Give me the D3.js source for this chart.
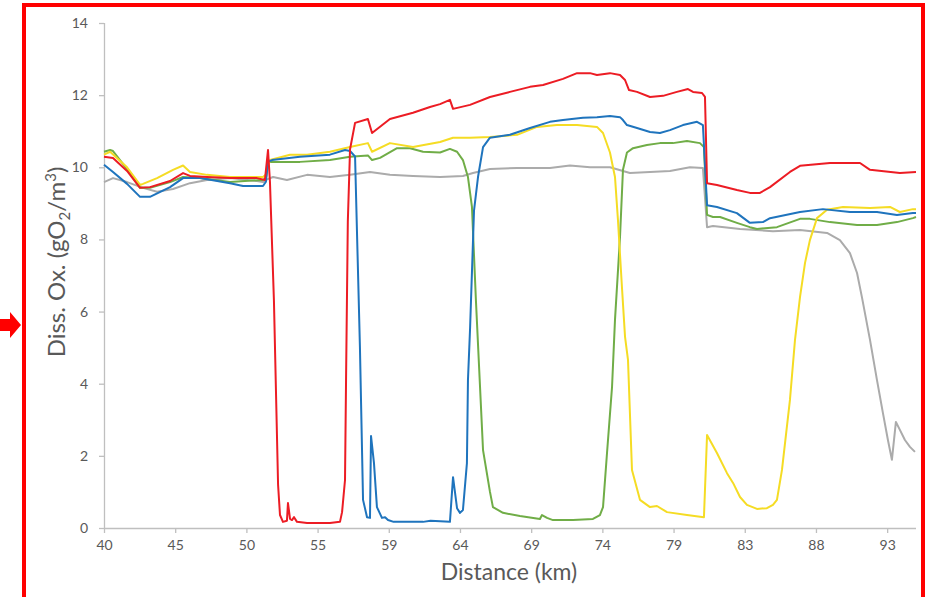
<!DOCTYPE html>
<html>
<head>
<meta charset="utf-8">
<script src="https://cdn.jsdelivr.net/npm/d3@7"></script>
<style>
    html, body { margin: 0; padding: 0; background: #fff; }
    svg { display: block; font-family: "Lato", "Liberation Sans", sans-serif; }
</style>
</head>
<body>
<div id="graph"></div>
<script>
// Category labels shown under the x axis (one every labelStep km)
const xTickLabels = ["40", "45", "50", "55", "59", "64", "69", "74", "79", "83", "88", "93"];
const labelStep = 4.818;
const xMax = 94.95;
const yTicks = [0, 2, 4, 6, 8, 10, 12, 14];

// Dissolved oxygen profiles, [distance km, gO2/m3]
const red = [[40.00,10.29],[40.61,10.26],[41.56,9.9],[42.44,9.43],[43.11,9.45],[44.47,9.62],[45.35,9.84],[45.82,9.76],[46.97,9.73],[48.53,9.7],[50.35,9.7],[50.89,9.65],[51.10,10.48],[51.23,9.6],[51.50,6.3],[51.78,1.2],[51.91,0.36],[52.11,0.17],[52.38,0.2],[52.45,0.69],[52.59,0.25],[52.72,0.22],[52.86,0.3],[53.06,0.17],[53.74,0.14],[55.29,0.14],[55.97,0.17],[56.11,0.44],[56.31,1.33],[56.38,4.1],[56.5,8.5],[56.65,10.5],[56.99,11.23],[57.86,11.34],[58.14,10.95],[59.35,11.34],[60.91,11.51],[62.06,11.67],[62.74,11.75],[63.41,11.87],[63.62,11.62],[64.77,11.73],[66.12,11.95],[67.47,12.09],[68.83,12.23],[69.71,12.28],[71.06,12.45],[72.01,12.61],[72.89,12.61],[73.36,12.56],[74.24,12.61],[74.92,12.56],[75.26,12.42],[75.53,12.14],[76.07,12.09],[76.95,11.95],[77.83,11.98],[78.77,12.09],[79.52,12.17],[79.86,12.09],[80.47,12.06],[80.67,11.95],[80.81,9.56],[81.48,9.51],[82.83,9.37],[83.71,9.29],[84.39,9.29],[85.07,9.45],[86.42,9.87],[87.10,10.04],[89.13,10.12],[91.16,10.12],[91.84,9.93],[93.86,9.84],[94.95,9.87]];

const blue = [[40.00,10.07],[40.61,9.87],[41.56,9.54],[42.44,9.18],[43.11,9.18],[44.47,9.45],[45.35,9.7],[46.5,9.7],[48.53,9.56],[49.41,9.48],[50.76,9.48],[50.96,9.6],[51.10,10.15],[51.37,10.2],[53.26,10.29],[55.29,10.35],[56.31,10.48],[56.65,10.45],[56.99,10.3],[57.32,5.0],[57.53,0.78],[57.80,0.30],[58.00,0.28],[58.07,2.55],[58.27,1.8],[58.47,0.58],[58.81,0.28],[59.02,0.30],[59.22,0.22],[59.6,0.17],[61.59,0.17],[62.1,0.2],[63.41,0.17],[63.62,1.41],[63.89,0.55],[64.09,0.42],[64.29,0.5],[64.56,1.8],[64.63,4.1],[64.77,5.5],[65.04,8.8],[65.31,9.73],[65.65,10.56],[66.12,10.82],[67.47,10.90],[68.83,11.09],[70.18,11.26],[71.06,11.31],[72.41,11.37],[73.36,11.39],[74.24,11.42],[74.92,11.39],[75.12,11.31],[75.39,11.17],[76.07,11.09],[76.95,10.98],[77.62,10.95],[78.30,11.03],[79.18,11.17],[80.13,11.26],[80.53,11.17],[80.81,8.95],[81.48,8.9],[82.83,8.73],[83.71,8.46],[84.59,8.48],[85.07,8.59],[87.10,8.76],[88.65,8.84],[90.48,8.76],[92.31,8.76],[93.66,8.68],[94.74,8.73],[94.95,8.73]];

const green = [[40.00,10.43],[40.41,10.48],[40.61,10.45],[41.56,9.95],[42.44,9.43],[43.11,9.43],[44.47,9.59],[45.35,9.73],[46.50,9.70],[48.53,9.59],[50.76,9.65],[50.96,9.7],[51.10,10.15],[53.26,10.15],[55.29,10.2],[56.65,10.29],[57.86,10.33],[58.14,10.2],[58.68,10.26],[59.83,10.53],[60.71,10.53],[61.59,10.43],[62.74,10.41],[63.41,10.51],[63.89,10.43],[64.29,10.2],[64.63,9.73],[64.90,8.9],[65.17,6.3],[65.65,2.16],[66.12,1.0],[66.32,0.58],[67.00,0.42],[68.15,0.33],[69.50,0.25],[69.64,0.36],[69.98,0.28],[70.38,0.22],[71.74,0.22],[73.09,0.25],[73.56,0.36],[73.77,0.58],[74.04,2.08],[74.38,3.91],[74.58,5.77],[74.92,8.07],[75.12,9.93],[75.39,10.41],[75.80,10.53],[76.74,10.62],[77.62,10.67],[78.50,10.67],[79.45,10.73],[80.33,10.67],[80.60,10.56],[80.81,8.68],[81.21,8.62],[81.69,8.62],[82.83,8.46],[83.71,8.34],[84.19,8.29],[85.54,8.34],[87.10,8.57],[87.77,8.57],[89.13,8.48],[90.96,8.40],[92.31,8.40],[93.66,8.48],[94.74,8.59],[94.95,8.62]];

const yellow = [[40.00,10.35],[40.41,10.43],[41.56,10.0],[42.44,9.51],[42.64,9.54],[43.59,9.70],[44.67,9.93],[45.35,10.05],[45.82,9.87],[46.97,9.79],[48.53,9.73],[50.76,9.73],[50.96,9.8],[51.23,10.2],[52.59,10.35],[53.74,10.35],[55.29,10.43],[56.65,10.56],[57.86,10.67],[58.14,10.43],[59.35,10.67],[60.91,10.56],[62.74,10.70],[63.62,10.82],[64.77,10.82],[66.12,10.84],[67.95,10.90],[69.30,11.12],[70.65,11.17],[72.01,11.17],[73.36,11.12],[73.77,10.95],[74.24,10.41],[74.58,9.73],[74.78,8.54],[75.05,6.68],[75.26,5.30],[75.46,4.66],[75.73,1.61],[76.27,0.78],[76.95,0.58],[77.42,0.61],[78.10,0.44],[79.45,0.36],[80.60,0.30],[80.81,2.58],[81.48,2.08],[82.16,1.52],[82.57,1.25],[83.04,0.86],[83.51,0.64],[84.19,0.53],[84.86,0.55],[85.27,0.64],[85.54,0.78],[85.88,1.61],[86.42,3.55],[86.76,5.21],[87.10,6.40],[87.44,7.35],[87.77,7.98],[88.25,8.59],[88.93,8.82],[90.01,8.90],[91.84,8.87],[93.19,8.90],[93.86,8.76],[94.74,8.84],[94.95,8.84]];

const gray = [[40.00,9.59],[40.61,9.70],[41.56,9.59],[42.64,9.43],[43.59,9.32],[44.67,9.40],[45.82,9.56],[46.97,9.65],[48.53,9.70],[50.35,9.62],[50.76,9.59],[50.96,9.65],[51.44,9.73],[52.38,9.65],[53.74,9.79],[55.29,9.73],[56.65,9.79],[58.00,9.87],[59.35,9.79],[60.91,9.76],[62.74,9.73],[64.29,9.76],[64.97,9.84],[66.12,9.95],[67.95,9.98],[70.18,9.98],[71.53,10.05],[72.89,10.0],[74.24,10.0],[75.59,9.84],[76.95,9.87],[78.30,9.90],[79.65,10.0],[80.53,9.98],[80.81,8.34],[81.21,8.37],[83.04,8.29],[85.27,8.23],[87.10,8.26],[88.93,8.18],[89.80,7.98],[90.48,7.62],[90.96,7.07],[91.30,6.38],[91.84,5.21],[92.31,4.10],[92.71,3.19],[93.05,2.44],[93.32,1.89],[93.59,2.94],[93.86,2.72],[94.20,2.44],[94.54,2.25],[94.88,2.11]];

const series = [
    {data: gray, color: "#ababab"},
    {data: green, color: "#70ad47"},
    {data: yellow, color: "#f5dc24"},
    {data: blue, color: "#1f74bd"},
    {data: red, color: "#ec1c24"}
];

const W = 927, H = 597;
const plot = {left: 104, right: 916, top: 23, bottom: 528};
const axisColor = "#bfbfbf";
const textColor = "#595959";

const svg = d3.select("#graph").append("svg")
    .attr("width", W)
    .attr("height", H);

// scales
const x = d3.scaleLinear().domain([40, xMax]).range([plot.left, plot.right]);
const y = d3.scaleLinear().domain([0, 14]).range([plot.bottom, plot.top]);

// y axis
const yAxis = svg.append("g")
    .attr("transform", "translate(" + plot.left + ",0)")
    .call(d3.axisLeft(y).tickValues(yTicks).tickSize(5).tickPadding(11));

// x axis, category style labels
const xTickValues = xTickLabels.map((d, i) => 40 + i * labelStep);
const xAxis = svg.append("g")
    .attr("transform", "translate(0," + plot.bottom + ")")
    .call(d3.axisBottom(x).tickValues(xTickValues)
        .tickFormat((d, i) => xTickLabels[i]).tickSize(5).tickPadding(7));

[yAxis, xAxis].forEach(function(g) {
    g.select(".domain").attr("stroke", axisColor).attr("stroke-width", 1.3);
    g.selectAll(".tick line").attr("stroke", axisColor).attr("stroke-width", 1.3);
    g.selectAll(".tick text")
        .attr("fill", textColor)
        .attr("font-size", 14)
        .attr("font-family", "Lato, sans-serif");
});
// axis lines without end caps
xAxis.select(".domain").attr("d", "M" + plot.left + ",0.5H" + plot.right);
yAxis.select(".domain").attr("d", "M0.5," + plot.top + "V" + plot.bottom);

// lines
const line = d3.line()
    .x(d => x(d[0]))
    .y(d => y(d[1]));

series.forEach(function(s) {
    svg.append("path")
        .datum(s.data)
        .attr("fill", "none")
        .attr("stroke", s.color)
        .attr("stroke-width", 2)
        .attr("stroke-linejoin", "round")
        .attr("d", line);
});

// axis titles
svg.append("text")
    .attr("x", 509)
    .attr("y", 580)
    .attr("text-anchor", "middle")
    .attr("font-size", 23)
    .attr("fill", textColor)
    .text("Distance (km)");

const yTitle = svg.append("text")
    .attr("transform", "translate(65,262) rotate(-90)")
    .attr("text-anchor", "middle")
    .attr("font-size", 24)
    .attr("fill", textColor);
yTitle.append("tspan").text("Diss. Ox. (gO");
yTitle.append("tspan").attr("font-size", 15).attr("dy", 5).text("2");
yTitle.append("tspan").attr("dy", -5).text("/m");
yTitle.append("tspan").attr("font-size", 15).attr("dy", -9).text("3");
yTitle.append("tspan").attr("dy", 9).text(")");

// red highlight frame and arrow
svg.append("rect")
    .attr("x", 24)
    .attr("y", 5)
    .attr("width", 899)
    .attr("height", 640)
    .attr("fill", "none")
    .attr("stroke", "#ff0000")
    .attr("stroke-width", 4);

svg.append("path")
    .attr("d", "M0,319H10V312L21,325L10,338V331H0Z")
    .attr("fill", "#ff0000");
</script>
</body>
</html>
